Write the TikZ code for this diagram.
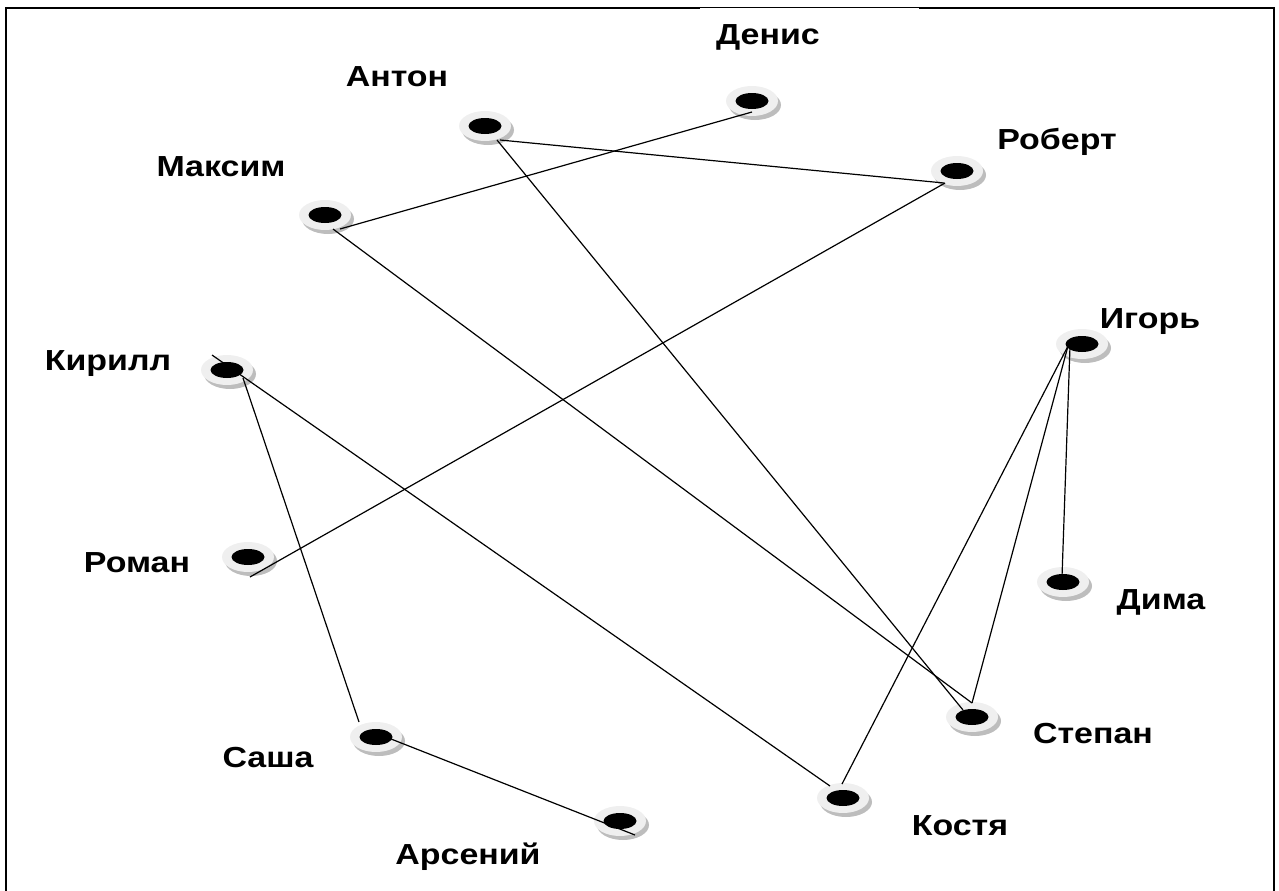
\documentclass[tikz,border=0pt]{standalone}
\usepackage{fontspec}
\newfontfamily\labfont[FakeStretch=1.17]{Liberation Sans}
\usetikzlibrary{calc,shapes.geometric}
\definecolor{ringgray}{HTML}{EFEFEF}
\definecolor{shadegray}{HTML}{BDBDBD}
\tikzset{
  hub/.style={ellipse, fill=black, minimum width=33pt, minimum height=16pt, inner sep=0pt},
  pics/ring/.style={code={
    \fill[shadegray] (3,4) ellipse [x radius=26, y radius=15];
    \fill[ringgray] (0,0) ellipse [x radius=26, y radius=15];
  }},
  personname/.style={font=\labfont\bfseries\fontsize{29}{34}\selectfont, inner sep=0pt},
  link/.style={line width=1.2pt, black},
}
\begin{document}
\begin{tikzpicture}[x=1pt,y=-1pt]
\useasboundingbox (0,0) rectangle (1279,891);
\clip (0,0) rectangle (1279,891);
% frame
\draw[line width=2.2pt] (6,900) -- (6,8) -- (1274,8) -- (1274,900);
\fill[white] (700,8.4) rectangle (919,10.5);

% people
\foreach \n/\x/\y in {anton/485/126, denis/752/101, robert/957/171, maxim/325/215,
  igor/1082/344, kirill/227/370, roman/248/557, dima/1063/582,
  stepan/972/717, sasha/376/737, kostya/843/798, arseniy/620/821}{
  \pic at (\x,\y) {ring};
  \node[hub] (\n) at (\x,\y) {};
}

% names
\node[personname] (tanton)   at (397,77)   {Антон};
\node[personname] (tdenis)   at (768,37)   {Денис};
\node[personname] (trobert)  at (1057,142) {Роберт};
\node[personname] (tmaxim)   at (221,167)  {Максим};
\node[personname] (tigor)    at (1150,322) {Игорь};
\node[personname] (tkirill)  at (108,364)  {Кирилл};
\node[personname] (troman)   at (137,563)  {Роман};
\node[personname] (tdima)    at (1161,602) {Дима};
\node[personname] (tstepan)  at (1093,734) {Степан};
\node[personname] (tsasha)   at (268,758)  {Саша};
\node[personname] (tkostya)  at (960,826)  {Костя};
\node[personname] (tarseniy) at (468,857)  {Арсений};

% acquaintances
\draw[link] ($(denis)+(0,11)$) -- ($(maxim)+(15,14)$);
\draw[link] ($(anton)+(15,14)$) -- ($(robert)+(-13,12)$);
\draw[link] ($(robert)+(-12,12)$) -- ($(roman)+(2,20)$);
\draw[link] ($(maxim)+(8,14)$) -- ($(stepan)+(0,-14)$);
\draw[link] ($(anton)+(12,14)$) -- ($(stepan)+(-9,-7)$);
\draw[link] ($(kirill)+(-15,-15)$) -- ($(kostya)+(-13,-12)$);
\draw[link] ($(kirill)+(16,8)$) -- ($(sasha)+(-17,-15)$);
\draw[link] ($(sasha)+(10,0)$) -- ($(arseniy)+(15,14)$);
\draw[link] ($(igor)+(-12,2)$) -- ($(dima)+(-1,-5)$);
\draw[link] ($(igor)+(-14,2)$) -- ($(stepan)+(0,-14)$);
\draw[link] ($(igor)+(-14,2)$) -- ($(kostya)+(-1,-14)$);
\end{tikzpicture}
\end{document}
